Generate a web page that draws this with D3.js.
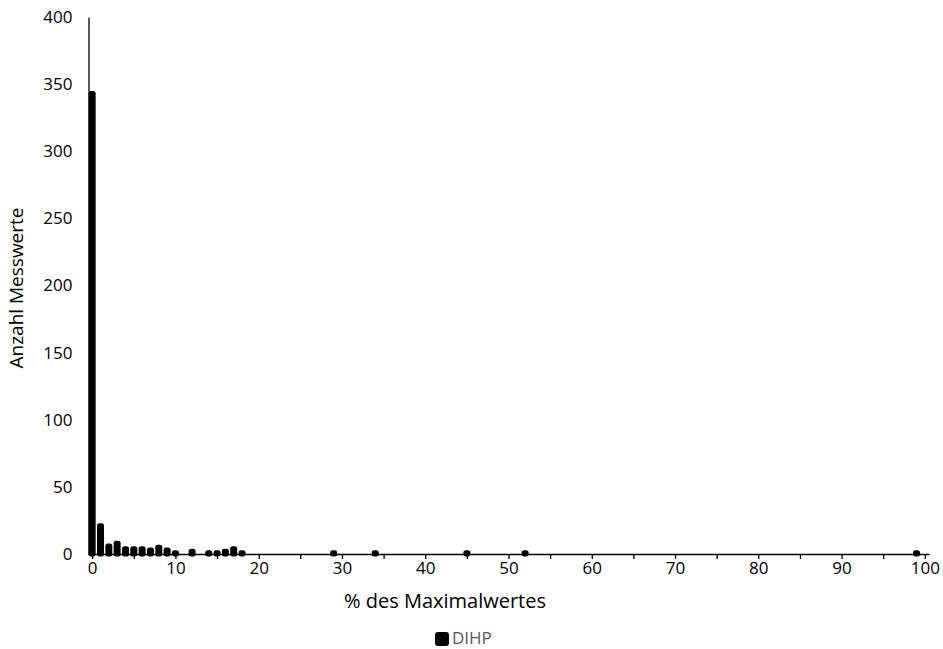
<!DOCTYPE html>
<html>
<head>
<meta charset="utf-8">
<script src="https://cdn.jsdelivr.net/npm/d3@7"></script>
<style>
  body { margin: 0; background: #fff; }
  text { font-family: "Open Sans", sans-serif; }
</style>
</head>
<body>
<svg id="chart" width="943" height="649"></svg>
<script>
// % of max value (bin) and number of measurements
const bins   = [0, 1, 2, 3, 4, 5, 6, 7, 8, 9, 10, 12, 14, 15, 16, 17, 18, 29, 34, 45, 52, 99];
const counts = [343, 21, 6, 8, 4, 4, 4, 3, 5, 3, 1, 2, 1, 1, 2, 4, 1, 1, 1, 1, 1, 1];
const xTicks = d3.range(0, 101, 5);
const yTicks = [0, 50, 100, 150, 200, 250, 300, 350, 400];
const seriesName = "DIHP";

const svg = d3.select('#chart');

const x = d3.scaleLinear().domain([-0.5, 100.5]).range([88, 929]);
const y = d3.scaleLinear().domain([0, 400]).range([554, 17]);

// bars (thick rounded outline makes the tiny ones look like dots)
svg.append('g')
  .selectAll('rect')
  .data(bins)
  .enter()
  .append('rect')
    .attr('x', d => x(d) - 1)
    .attr('width', 2)
    .attr('y', (d, i) => y(counts[i]))
    .attr('height', (d, i) => y(0) - y(counts[i]))
    .attr('fill', '#000')
    .attr('stroke', '#000')
    .attr('stroke-width', 5)
    .attr('stroke-linejoin', 'round');

// x axis
const xAxis = svg.append('g')
  .attr('transform', 'translate(0,554)')
  .call(d3.axisBottom(x).tickValues(xTicks).tickSize(5).tickSizeOuter(0)
    .tickFormat(d => d % 10 === 0 ? d : ''));
xAxis.select('.domain').attr('stroke', '#000').attr('stroke-width', 1.3);
xAxis.selectAll('.tick line').attr('stroke', '#000').attr('stroke-width', 1.3);
xAxis.selectAll('.tick text')
  .attr('fill', '#000').attr('font-size', 17).attr('y', 8)
  .style('font-family', '"Open Sans", sans-serif');

// y axis
const yAxis = svg.append('g')
  .attr('transform', 'translate(88.5,0)')
  .call(d3.axisLeft(y).tickValues(yTicks).tickSize(0).tickPadding(16));
yAxis.select('.domain').attr('stroke', '#000').attr('stroke-width', 1.3);
yAxis.selectAll('.tick text')
  .attr('fill', '#000').attr('font-size', 17)
  .style('font-family', '"Open Sans", sans-serif');

// axis titles
svg.append('text')
  .attr('x', 445).attr('y', 603)
  .attr('text-anchor', 'middle').attr('dominant-baseline', 'middle')
  .attr('font-size', 20)
  .text('% des Maximalwertes');

svg.append('text')
  .attr('transform', 'translate(18,288) rotate(-90)')
  .attr('text-anchor', 'middle').attr('dominant-baseline', 'middle')
  .attr('font-size', 19)
  .text('Anzahl Messwerte');

// legend
svg.append('rect')
  .attr('x', 435).attr('y', 632).attr('width', 14).attr('height', 14)
  .attr('rx', 3).attr('fill', '#000');
svg.append('text')
  .attr('x', 452).attr('y', 639)
  .attr('dominant-baseline', 'middle')
  .attr('font-size', 17).attr('fill', '#595959')
  .text(seriesName);
</script>
</body>
</html>
